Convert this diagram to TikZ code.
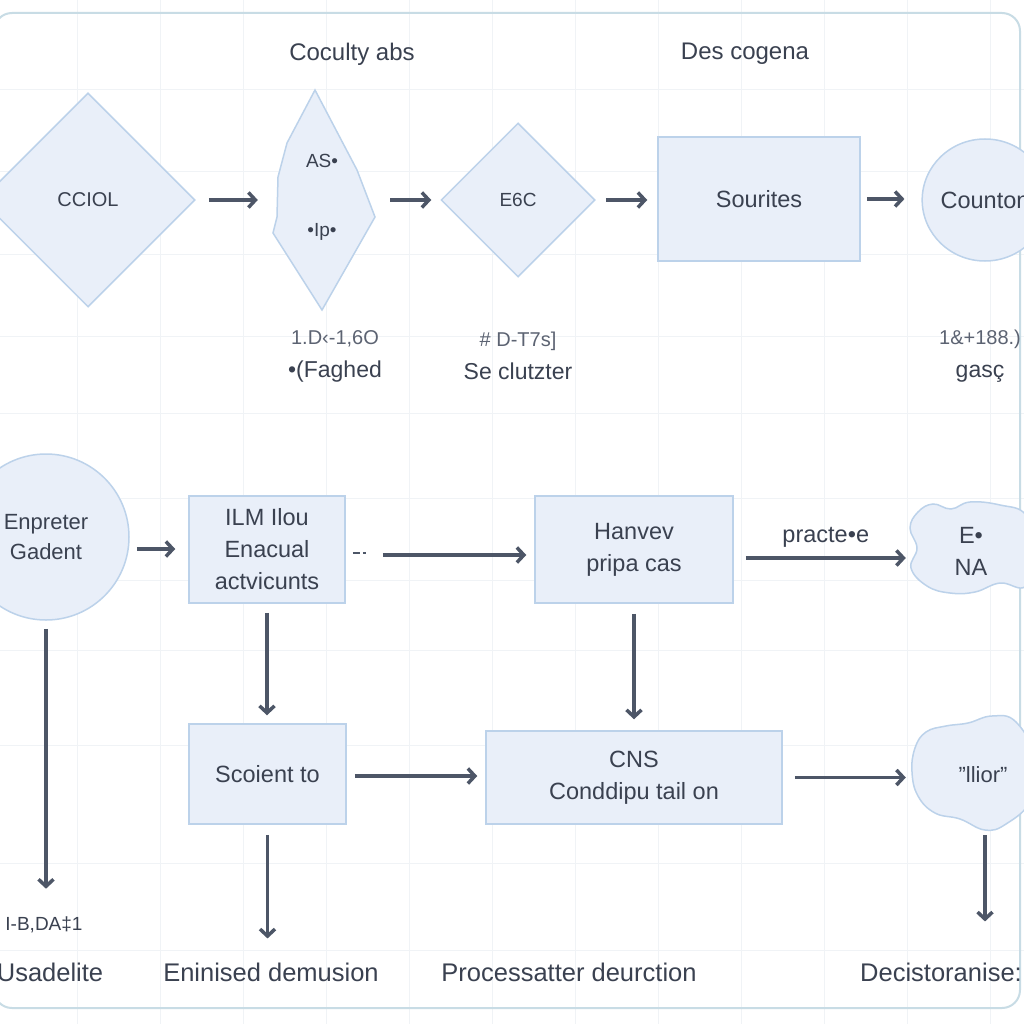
\documentclass[tikz,border=0pt]{standalone}
\usepackage{fontspec}
\setmainfont{Liberation Sans}
\usetikzlibrary{shapes.geometric,arrows.meta}
\definecolor{boxfill}{HTML}{E9EFF9}
\definecolor{boxline}{HTML}{BCD2EA}
\definecolor{txt}{HTML}{3A4150}
\definecolor{txtlight}{HTML}{5C6372}
\definecolor{arr}{HTML}{4D5667}
\definecolor{framec}{HTML}{C8DCE5}
\definecolor{gridc}{HTML}{F0F3F6}
\begin{document}
\begin{tikzpicture}[x=1pt,y=-1pt,
  shp/.style={fill=boxfill,draw=boxline,line width=1.5pt},
  box/.style={shp,rectangle,inner sep=0pt,align=center,text=txt,font=\fontsize{23.5}{32}\selectfont},
  lbl/.style={text=txt,align=center,inner sep=0pt,font=\fontsize{23}{33}\selectfont},
  bot/.style={text=txt,inner sep=0pt,font=\fontsize{25.5}{30}\selectfont},
  ttl/.style={text=txt,inner sep=0pt,font=\fontsize{24}{30}\selectfont},
  conn/.style={draw=arr,line width=3.5pt,-{Straight Barb[length=7pt,width=15pt]}},
]
\useasboundingbox (0,0) rectangle (1024,1024);
\fill[white] (0,0) rectangle (1024,1024);
% faint grid
\foreach \gx in {77,160,243,326,409,492,575,658,741,824,907,990}
  \draw[gridc,line width=1pt] (\gx,0) -- (\gx,1024);
\foreach \gy in {90,172,254,336,413,498,580,650,745,863,950}
  \draw[gridc,line width=1pt] (0,\gy) -- (1024,\gy);
% frame
\draw[framec,line width=2pt,rounded corners=18] (-6,13) rectangle (1020,1008);

% titles
\node[ttl] (t1) at (352,54) {Coculty abs};
\node[ttl] (t2) at (745,54) {Des cogena};

% row 1
\node[shp,diamond,minimum width=214,minimum height=214,inner sep=0pt,text=txt,font=\fontsize{20}{24}\selectfont] (cciol) at (88,200) {CCIOL};
\draw[shp] (315,90) -- (357,170) -- (375,217) -- (322,310) -- (273,233) -- (277,217) -- (278,177) -- (287,143) -- cycle;
\node[minimum width=102,minimum height=220,inner sep=0pt,align=center,text=txt,font=\fontsize{19}{69}\selectfont] (asip) at (322,197) {AS•\\•Ip•};
\node[shp,diamond,minimum width=154,minimum height=154,inner sep=0pt,text=txt,font=\fontsize{19}{24}\selectfont] (e6c) at (518,200) {E6C};
\node[box,minimum width=202,minimum height=124] (sour) at (759,199) {Sourites};
\node[shp,ellipse,minimum width=124,minimum height=122,inner sep=0pt,text=txt,font=\fontsize{23.5}{30}\selectfont] (count) at (985,200) {Counton};

\draw[conn] ([xshift=13]cciol.east) -- ([xshift=-13]asip.west |- cciol.east);
\draw[conn] ([xshift=17]asip.east |- e6c.west) -- ([xshift=-9]e6c.west);
\draw[conn] ([xshift=10]e6c.east) -- ([xshift=-10]sour.west |- e6c.east);
\draw[conn] ([xshift=6]sour.east) -- ([xshift=-17]count.west |- sour.east);

\node[lbl] (l1) at (335,356) {{\fontsize{20}{33}\selectfont\color{txtlight}1.D‹-1,6O}\\•(Faghed};
\node[lbl] (l2) at (518,356) {{\fontsize{20}{33}\selectfont\color{txtlight}\# D-T7s]}\\Se clutzter};
\node[lbl] (l3) at (980,356) {{\fontsize{20}{33}\selectfont\color{txtlight}1\&+188.)}\\gasç};

% row 2
\node[shp,circle,minimum size=166,inner sep=0pt,align=center,text=txt,font=\fontsize{22}{30}\selectfont] (enp) at (46,537) {Enpreter\\Gadent};
\node[box,minimum width=156,minimum height=107] (ilm) at (267,549.5) {ILM Ilou\\Enacual\\actvicunts};
\node[box,minimum width=198,minimum height=107] (hanv) at (634,549.5) {Hanvev\\pripa cas};
\draw[shp] plot[smooth cycle,tension=0.7] coordinates {(910,528) (918,512) (933,504) (951,509) (970,502) (1000,505) (1026,515) (1036,550) (1026,586) (1000,583) (975,592) (950,593) (927,586) (911,568) (917,548)};
\node[minimum width=126,minimum height=102,inner sep=0pt,align=center,text=txt,font=\fontsize{23.5}{32}\selectfont] (cloud1) at (971,551) {E•\\NA};

\coordinate (ec) at ([xshift=7,yshift=-12]enp.east);
\draw[conn] (ec) -- ([xshift=-13]ilm.west |- ec);
\draw[arr,line width=2pt,dash pattern=on 7pt off 3pt on 3pt off 20pt] ([xshift=7,yshift=-3.5]ilm.east) -- ([xshift=27,yshift=-3.5]ilm.east);
\draw[conn] ([xshift=37,yshift=-5.5]ilm.east) -- ([xshift=-8,yshift=-5.5]hanv.west);
\coordinate (hc) at ([xshift=12,yshift=-8.5]hanv.east);
\draw[conn] (hc) -- node[above=9pt,text=txt,inner sep=0pt,font=\fontsize{23.5}{30}\selectfont] (prac) {practe•e} ([xshift=-2]cloud1.west |- hc);

% row 3
\node[box,minimum width=157,minimum height=100] (scoi) at (267.5,774) {Scoient to};
\node[box,minimum width=296,minimum height=93] (cns) at (634,777.5) {CNS\\Conddipu tail on};
\draw[shp] plot[smooth cycle,tension=0.7] coordinates {(915,748) (926,732) (946,726) (968,723) (992,716) (1016,722) (1036,760) (1031,800) (1006,824) (985,830) (960,819) (935,813) (918,796) (912,772)};
\node[minimum width=142,minimum height=110,inner sep=0pt,text=txt,font=\fontsize{22}{30}\selectfont] (cloud2) at (983,775) {{\char"22}llior{\char"22}};

\coordinate (sc) at ([xshift=8,yshift=-2]scoi.east);
\draw[conn] (sc) -- ([xshift=-8]cns.west |- sc);
\coordinate (cc) at ([xshift=12]cns.east);
\draw[conn] (cc) -- ([xshift=-6]cloud2.west |- cc);

% bottom labels
\node[text=txt,inner sep=0pt,font=\fontsize{19}{24}\selectfont] (ibd) at (44,925) {I-B,DA‡1};
\node[bot] (b1) at (50,972) {Usadelite};
\node[bot] (b2) at (271,972) {Eninised demusion};
\node[bot] (b3) at (569,972) {Processatter deurction};
\node[bot] (b4) at (941,972) {Decistoranise:};

% vertical connectors
\draw[conn] ([yshift=-8]enp.south) -- ([yshift=28]enp.south |- ibd.north);
\draw[conn] ([yshift=-9]ilm.south) -- ([yshift=8]ilm.south |- scoi.north);
\draw[conn] ([yshift=-10]hanv.south) -- ([yshift=11]hanv.south |- cns.north);
\draw[conn] ([yshift=-10]scoi.south) -- ([yshift=24]scoi.south |- b2.north);
\draw[conn] ([xshift=2,yshift=-5]cloud2.south) -- ([xshift=2,yshift=41]cloud2.south |- b4.north);
\end{tikzpicture}
\end{document}
